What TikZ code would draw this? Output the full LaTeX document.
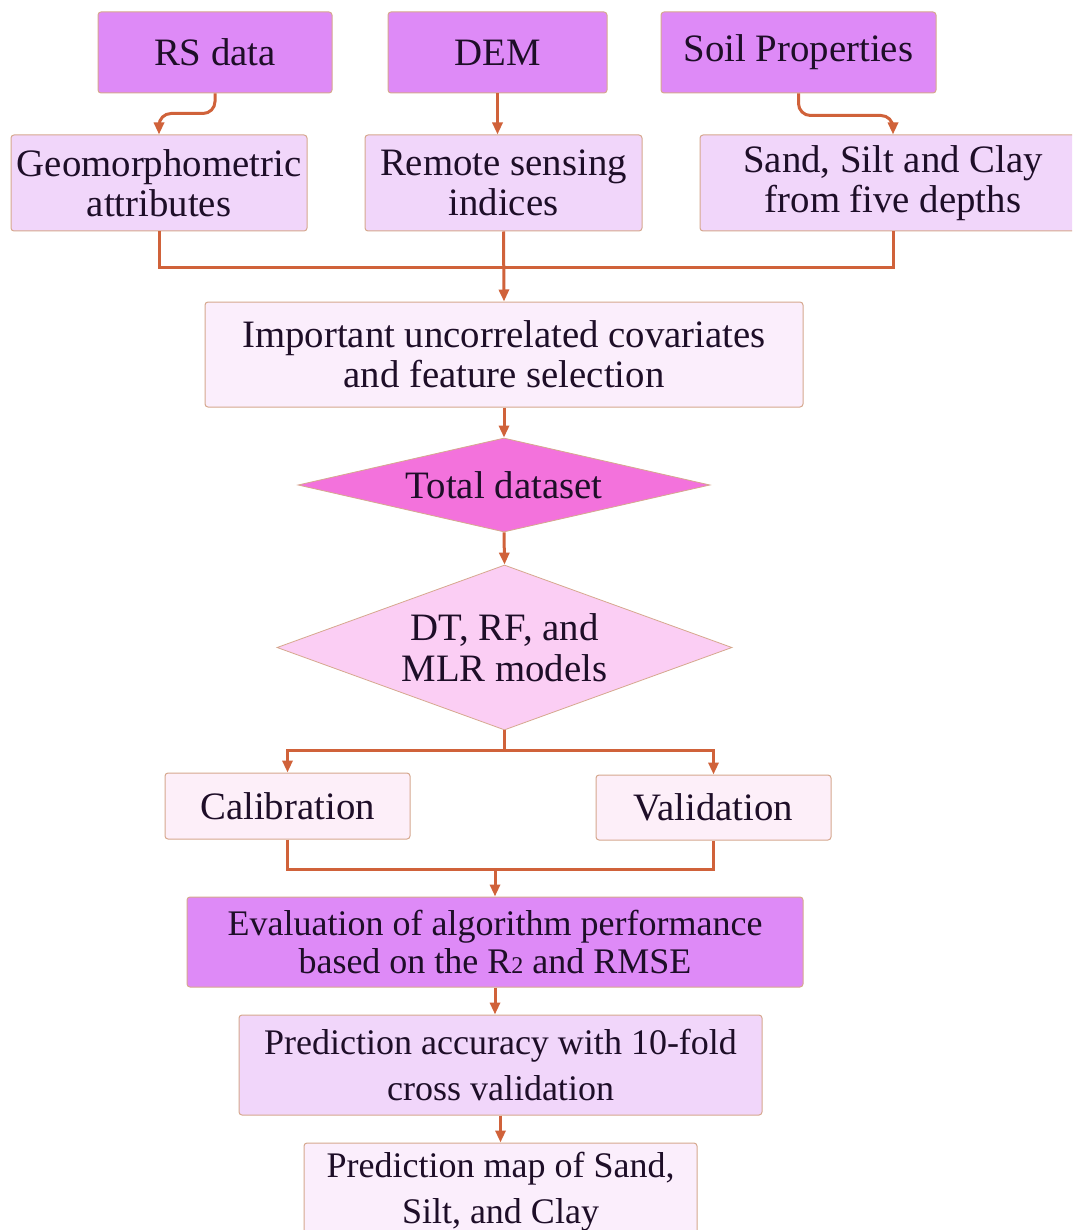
\documentclass[tikz,border=0pt]{standalone}
\usepackage{fontspec}
\setmainfont{Liberation Serif}
\usepackage{tikz}
\usetikzlibrary{arrows.meta,shapes.geometric,calc}

\definecolor{violetbox}{RGB}{222,138,247}
\definecolor{lavbox}{RGB}{241,214,250}
\definecolor{palebox}{RGB}{251,238,252}
\definecolor{calbox}{RGB}{253,239,249}
\definecolor{hotpink}{RGB}{243,114,220}
\definecolor{softpink}{RGB}{251,206,244}
\definecolor{edgeline}{RGB}{214,168,142}
\definecolor{flowline}{RGB}{208,98,58}
\definecolor{inktext}{RGB}{30,14,40}

\tikzset{
  box/.style={draw=edgeline, line width=0.5pt, rounded corners=1.5pt, inner sep=0pt,
    align=center, text=inktext, font=\fontsize{19.4}{20}\selectfont},
  topbox/.style={box, fill=violetbox},
  midbox/.style={box, fill=lavbox},
  palebox/.style={box, fill=palebox},
  lowbox/.style={box, font=\fontsize{18}{23}\selectfont},
  decide/.style={diamond, draw=edgeline, line width=0.4pt, inner sep=0pt,
    align=center, text=inktext, font=\fontsize{19.4}{20.5}\selectfont},
  line/.style={draw=flowline, line width=1.5pt},
  arr/.style={line, -{Triangle[length=6pt,width=5pt]}}
}

\begin{document}
\begin{tikzpicture}[x=0.5pt, y=-0.5pt]
  \clip (0,0) rectangle (1072,1230);
  \fill[white] (0,0) rectangle (1072,1230);

  \node[topbox, minimum width=117pt, minimum height=40.5pt] (rs) at (215,52.5) {RS data};
  \node[topbox, minimum width=109.5pt, minimum height=40.5pt] (dem) at (497.5,52.5) {DEM};
  \node[topbox, minimum width=137.5pt, minimum height=40.5pt] (soil) at (798.5,52.5) {Soil Properties};

  \node[midbox, minimum width=148pt, minimum height=48pt] (geo) at (159,183) {Geomorphometric\\attributes};
  \node[midbox, minimum width=138.5pt, minimum height=48pt] (rsi) at (503.5,183) {Remote sensing\\indices};
  \node[midbox, minimum width=193pt, minimum height=48pt] (ssc) at (893,183) {Sand, Silt and Clay\\from five depths};

  \node[palebox, minimum width=299pt, minimum height=52.5pt] (imp) at (504,354.5)
    {Important uncorrelated covariates\\and feature selection};

  \node[decide, fill=hotpink, aspect=4.38, minimum width=206pt, minimum height=47pt] (tds) at (504,485) {Total dataset};
  \node[decide, fill=softpink, aspect=2.76, minimum width=227.5pt, minimum height=82.5pt] (dt) at (504.5,647.5)
    {DT, RF, and\\MLR models};

  \node[box, fill=calbox, minimum width=122.5pt, minimum height=33pt] (cal) at (287.5,806) {Calibration};
  \node[box, fill=calbox, minimum width=117.5pt, minimum height=32.5pt] (val) at (713.5,807.5) {Validation};

  \node[lowbox, fill=violetbox, minimum width=308pt, minimum height=45pt, font=\fontsize{18}{19}\selectfont] (eval) at (495,942)
    {Evaluation of algorithm performance\\based on the R{\fontsize{12}{12}\selectfont 2} and RMSE};
  \node[lowbox, fill=lavbox, minimum width=261.5pt, minimum height=50pt] (pa) at (500.5,1065)
    {Prediction accuracy with 10-fold\\cross validation};
  \node[lowbox, fill=palebox, minimum width=196.5pt, minimum height=48.5pt] (pm) at (500.5,1191.5)
    {Prediction map of Sand,\\Silt, and Clay};

  \draw[arr, rounded corners=6pt] (rs.south) -- ++(0,20) -| (geo.north);
  \draw[arr] (dem.south) -- (dem.south |- rsi.north);
  \draw[arr, rounded corners=6pt] (soil.south) -- ++(0,22) -| (ssc.north);
  \draw[line] (geo.south) -- ++(0,36) -| (ssc.south);
  \draw[arr] (rsi.south) -- (imp.north);
  \draw[arr] (imp.south) -- (tds.north);
  \draw[arr] (tds.south) -- (dt.north);
  \draw[line] (dt.south) -- ++(0,20) coordinate (split);
  \draw[arr] (split) -| (cal.north);
  \draw[arr] (split) -| (val.north);
  \draw[line] (cal.south) -- ++(0,30) coordinate (join) -| (val.south);
  \draw[arr] (join -| eval.north) -- (eval.north);
  \draw[arr] (eval.south) -- (eval.south |- pa.north);
  \draw[arr] (pa.south) -- (pm.north);
\end{tikzpicture}
\end{document}
